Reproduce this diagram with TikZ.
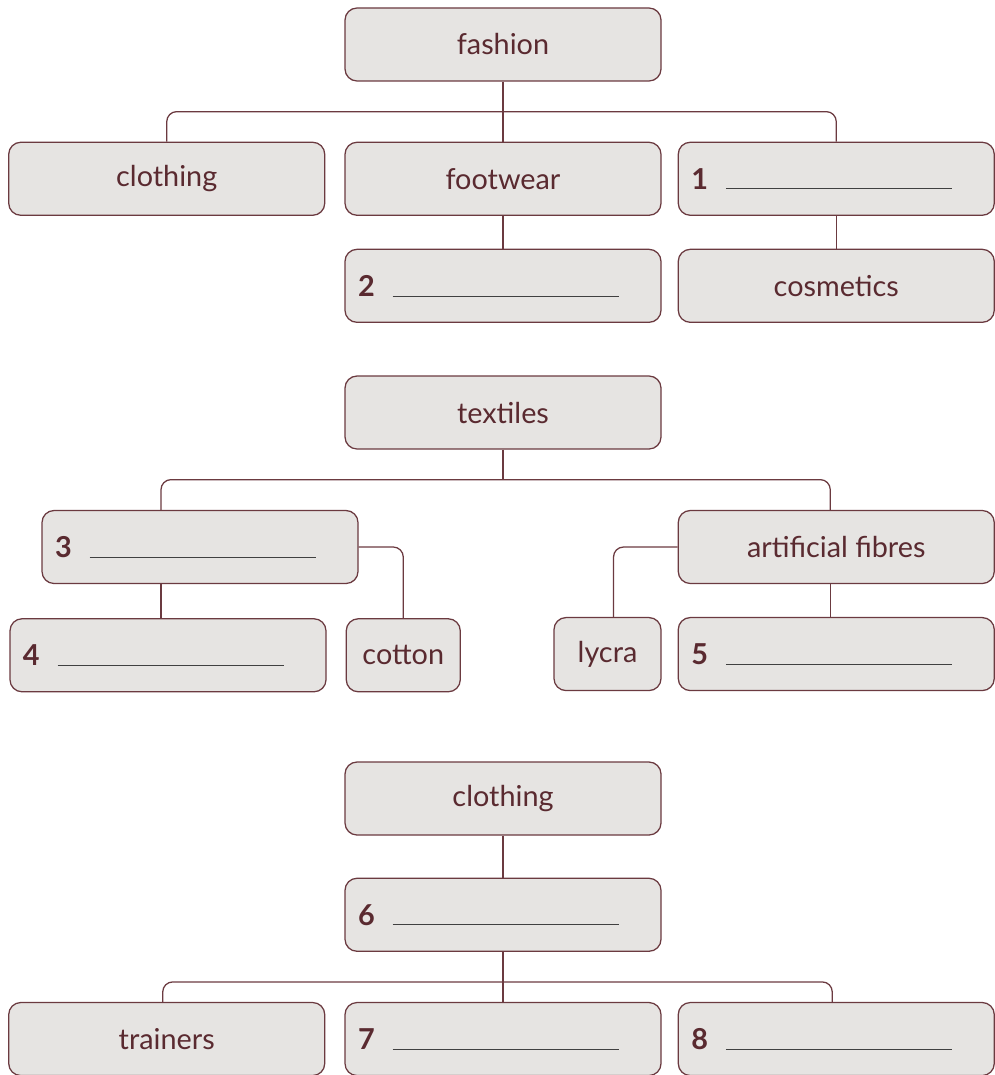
\documentclass[tikz,border=0pt]{standalone}
\usepackage{fontspec}
\setmainfont{Lato}
\usepackage{xcolor}
\usepackage{tikz}
\usetikzlibrary{positioning,calc}
\definecolor{maroon}{HTML}{6B3A40}
\definecolor{inkred}{HTML}{5A2A30}
\definecolor{boxgray}{HTML}{E6E4E2}
\tikzstyle{box}=[rectangle, rounded corners=0.3cm, draw=maroon, line width=0.9pt, fill=boxgray,
  minimum width=7.9cm, minimum height=1.825cm, text=inkred, font=\fontsize{20.5}{24}\selectfont]
\tikzstyle{numbox}=[box, text width=7.25cm, inner xsep=0.325cm, align=left]
\tikzstyle{smallbox}=[box, minimum width=2.7cm]
\tikzstyle{link}=[draw=maroon, line width=0.9pt, rounded corners=0.25cm]
\newcommand{\blank}[1]{\textbf{#1}\hspace{0.45cm}{\color{black!75}\rule{5.65cm}{0.6pt}}}

\begin{document}
\begin{tikzpicture}[node distance=0.85cm]
\useasboundingbox (0,0) rectangle (24.85,-26.875);
% fashion
\node (fash) [box] at (12.575,-1.1125) {fashion};
\node (foot) [box, below=1.5cm of fash] {footwear};
\node (cloth) [box, left=0.475cm of foot] {clothing};
\node (n1) [numbox, right=0.4cm of foot] {\blank{1}};
\node (n2) [numbox, below=0.82cm of foot] {\blank{2}};
\node (cosm) [box, below=0.82cm of n1] {cosmetics};
\coordinate (fbar) at ($(fash.south)+(0,-0.75)$);

\draw[link] (cloth.north) |- (fbar) -| (n1.north);
\draw[link] (fash)--(foot);
\draw[link] (foot)--(n2);
\draw[link] (n1)--(cosm);

% textiles
\node (txtl) [box] at (12.575,-10.3125) {textiles};
\node (n3) [numbox] at (5,-13.675) {\blank{3}};
\node (artf) [box, right=7.975cm of n3] {artificial fibres};
\node (n4) [numbox, below=0.85cm of n3, xshift=-0.8cm] {\blank{4}};
\node (cott) [smallbox, minimum width=2.85cm, right=0.475cm of n4] {cotton};
\node (n5) [numbox, below=0.82cm of artf] {\blank{5}};
\node (lyc) [smallbox, minimum width=2.675cm, left=0.4cm of n5] {lycra};
\coordinate (tbar) at ($(txtl.south)+(0,-0.75)$);

\draw[link] (txtl)--(tbar);
\draw[link] ([xshift=-0.975cm]n3.north) |- (tbar) -| ([xshift=-0.15cm]artf.north);
\draw[link] ([xshift=-0.975cm]n3.south) -- ([xshift=-0.975cm]n3.south |- n4.north);
\draw[link] (n3.east) -| (cott.north);
\draw[link] (artf.west) -| ([xshift=0.15cm]lyc.north);
\draw[link] ([xshift=-0.15cm]artf.south) -- ([xshift=-0.15cm]artf.south |- n5.north);

% clothing
\node (clothb) [box] at (12.575,-19.9625) {clothing};
\node (n6) [numbox, below=1.05cm of clothb] {\blank{6}};
\node (n7) [numbox, below=1.25cm of n6] {\blank{7}};
\node (train) [box, left=0.475cm of n7] {trainers};
\node (n8) [numbox, right=0.4cm of n7] {\blank{8}};
\coordinate (cbar) at ($(n6.south)+(0,-0.75)$);

\draw[link] (clothb)--(n6);
\draw[link] (n6)--(n7);
\draw[link] ([xshift=-0.1cm]train.north) |- (cbar) -| ([xshift=-0.1cm]n8.north);
\end{tikzpicture}
\end{document}
